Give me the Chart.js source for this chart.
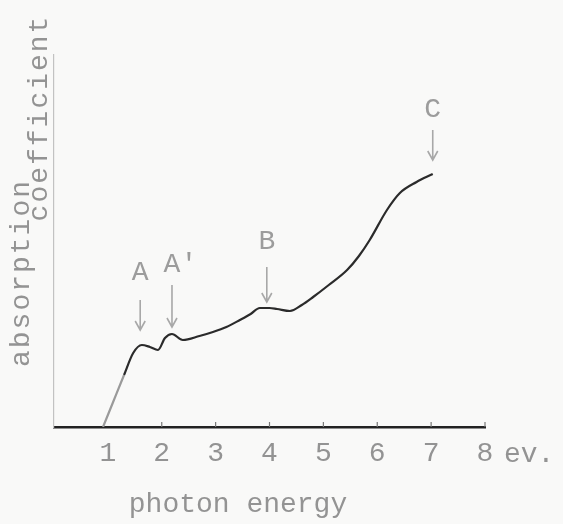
<!DOCTYPE html>
<html><head><meta charset="utf-8">
<script src="https://cdn.jsdelivr.net/npm/chart.js@4"></script>
<style>
html,body{margin:0;padding:0;background:#f9f9f8;}
#wrap{width:563px;height:524px;position:relative;}
</style>
</head><body>
<div id="wrap"><canvas id="c"></canvas></div>
<script>
// photon energy (eV) and absorption coefficient (arbitrary units)
const energy     = [0.91, 1.09, 1.30, 1.47, 1.63, 1.78, 1.93, 2.06, 2.19, 2.39, 2.70, 2.95, 3.20, 3.45, 3.65, 3.82, 4.00, 4.14, 4.38, 4.60, 4.81, 5.10, 5.44, 5.66, 5.86, 6.18, 6.42, 6.73, 7.03];
const absorption = [0.0,  2.4,  5.2,  7.4,  8.2,  8.0,  7.7,  8.9,  9.3,  8.7,  9.1,  9.5,  10.0, 10.7, 11.3, 11.9, 11.9, 11.8, 11.6, 12.2, 13.0, 14.2, 15.7, 17.1, 18.7, 21.7, 23.4, 24.5, 25.3];

const xTickValues = [1, 2, 3, 4, 5, 6, 7, 8];
const xTickLabels = ['1', '2', '3', '4', '5', '6', '7', '8'];
const unitLabel = 'ev.';
const xTitle = 'photon energy';
const yTitleLines = ['absorption', 'coefficient'];

// peak markers
const markerLabels   = ['A', "A'", 'B', 'C'];
const markerX        = [1.60, 2.19, 3.95, 7.03];
const markerTextY    = [15.4, 16.2, 18.5, 31.7];
const markerArrowTop = [12.7, 14.2, 16.0, 29.7];
const markerArrowTip = [9.7, 10.0, 12.5, 26.7];

const FONT = '"Liberation Mono", "DejaVu Sans Mono", monospace';
const TEXT = '#939393';

const overlay = {
  id: 'overlay',
  afterDraw(chart) {
    const ctx = chart.ctx, xs = chart.scales.x, ys = chart.scales.y;
    ctx.save();
    // small upward tick marks on the energy axis
    ctx.strokeStyle = '#777';
    ctx.lineWidth = 1.2;
    xTickValues.forEach(v => {
      if (v < 2) return;
      const px = xs.getPixelForValue(v);
      ctx.beginPath();
      ctx.moveTo(px, ys.bottom);
      ctx.lineTo(px, ys.bottom - 5);
      ctx.stroke();
    });
    // unit label after last tick
    ctx.fillStyle = TEXT;
    ctx.font = '28px ' + FONT;
    ctx.textBaseline = 'middle';
    ctx.textAlign = 'left';
    ctx.fillText(unitLabel, xs.right + 19, 455);
    // x title
    ctx.textAlign = 'center';
    ctx.fillText(xTitle, 238, 505);
    // y title (two typed lines, rotated)
    ctx.save();
    try { ctx.letterSpacing = '2px'; } catch (e) {}
    ctx.translate(22, 273);
    ctx.rotate(-Math.PI / 2);
    ctx.fillText(yTitleLines[0], 0, 0);
    ctx.restore();
    ctx.save();
    try { ctx.letterSpacing = '2px'; } catch (e) {}
    ctx.translate(40, 118);
    ctx.rotate(-Math.PI / 2);
    ctx.fillText(yTitleLines[1], 0, 0);
    ctx.restore();
    // peak markers
    ctx.font = '28px ' + FONT;
    ctx.fillStyle = '#9c9c9c';
    ctx.strokeStyle = '#a8a8a8';
    ctx.lineWidth = 1.6;
    const cw = ctx.measureText('A').width;
    markerLabels.forEach((lab, i) => {
      const px = xs.getPixelForValue(markerX[i]);
      ctx.textAlign = 'left';
      ctx.fillText(lab, px - cw / 2, ys.getPixelForValue(markerTextY[i]));
      const y0 = ys.getPixelForValue(markerArrowTop[i]);
      const y1 = ys.getPixelForValue(markerArrowTip[i]);
      ctx.beginPath();
      ctx.moveTo(px, y0);
      ctx.lineTo(px, y1);
      ctx.moveTo(px - 5, y1 - 9);
      ctx.lineTo(px, y1);
      ctx.lineTo(px + 5, y1 - 9);
      ctx.stroke();
    });
    ctx.restore();
  }
};

new Chart(document.getElementById('c'), {
  type: 'line',
  data: {
    datasets: [{
      data: energy.map((x, i) => ({ x: x, y: absorption[i] })),
      borderColor: '#2b2b2b',
      borderWidth: 2.2,
      pointRadius: 0,
      cubicInterpolationMode: 'monotone',
      fill: false,
      segment: {
        borderColor: c => (c.p0.parsed.x < 1.3 ? '#9a9a9a' : '#2b2b2b')
      }
    }]
  },
  options: {
    responsive: true,
    maintainAspectRatio: false,
    animation: false,
    events: [],
    layout: { padding: { top: 55, right: 78, left: 0, bottom: 0 } },
    plugins: { legend: { display: false }, tooltip: { enabled: false } },
    scales: {
      x: {
        type: 'linear',
        min: 0,
        max: 8,
        afterBuildTicks: s => { s.ticks = xTickValues.map(v => ({ value: v })); },
        afterFit: s => { s.height = 97; },
        ticks: {
          callback: v => xTickLabels[xTickValues.indexOf(v)],
          font: { family: FONT, size: 28 },
          color: TEXT,
          padding: 10,
          maxRotation: 0,
          autoSkip: false
        },
        grid: { display: false, drawTicks: false },
        border: { display: true, color: '#222', width: 2.6 }
      },
      y: {
        type: 'linear',
        min: 0,
        max: 37.2,
        afterFit: s => { s.width = 54; },
        ticks: { display: false },
        grid: { display: false, drawTicks: false },
        border: { display: true, color: '#c2c2c2', width: 1.2 }
      }
    }
  },
  plugins: [overlay]
});
</script>
</body></html>
